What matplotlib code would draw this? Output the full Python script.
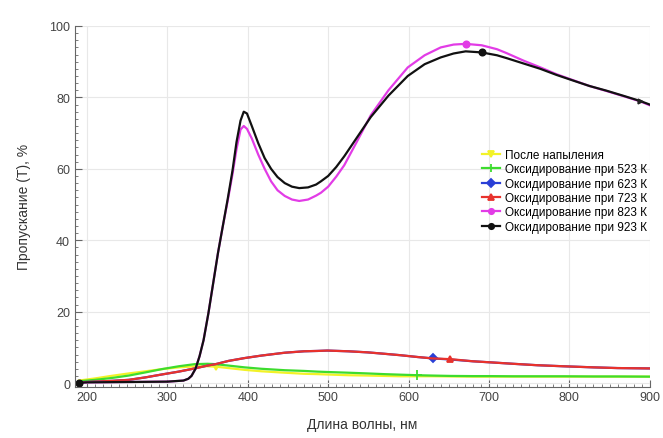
import numpy as np
import matplotlib
matplotlib.use('Agg')
import matplotlib.pyplot as plt
from matplotlib.ticker import MultipleLocator

plt.rcParams['font.family'] = ['Liberation Sans', 'DejaVu Sans']

# ---- Data ----
labels = [
    'После напыления',
    'Оксидирование при 523 К',
    'Оксидирование при 623 К',
    'Оксидирование при 723 К',
    'Оксидирование при 823 К',
    'Оксидирование при 923 К',
]

# low-transmission films
wl_low = [190, 210, 230, 252, 273, 293, 314, 334, 350, 360, 376, 396, 417, 446,
          470, 487, 499, 525, 549, 570, 590, 611, 630, 652, 680, 702, 730, 760,
          793, 830, 860, 900]
t_as_dep = [0.7, 1.3, 2.0, 2.7, 3.3, 3.9, 4.4, 4.7, 4.7, 4.6, 4.2, 3.7, 3.3, 2.9,
            2.6, 2.5, 2.4, 2.2, 2.1, 2.0, 1.9, 1.9, 1.9, 1.85, 1.8, 1.8, 1.8, 1.8,
            1.8, 1.8, 1.8, 1.8]
t_523 = [0.5, 0.9, 1.4, 2.1, 3.0, 3.9, 4.7, 5.3, 5.4, 5.3, 4.9, 4.4, 4.0, 3.6,
         3.4, 3.2, 3.1, 2.9, 2.7, 2.5, 2.35, 2.2, 2.1, 2.0, 1.95, 1.95, 1.9, 1.9,
         1.9, 1.85, 1.85, 1.8]
t_623 = [0.2, 0.4, 0.6, 0.9, 1.6, 2.4, 3.2, 4.1, 4.9, 5.3, 6.2, 7.0, 7.7, 8.5,
         8.9, 9.0, 9.1, 8.9, 8.6, 8.2, 7.8, 7.3, 6.9, 6.6, 6.1, 5.8, 5.4, 5.0,
         4.7, 4.4, 4.2, 4.1]
t_723 = [0.2, 0.4, 0.6, 0.9, 1.6, 2.4, 3.2, 4.1, 4.9, 5.3, 6.2, 7.0, 7.7, 8.5,
         8.9, 9.0, 9.1, 8.9, 8.6, 8.2, 7.8, 7.3, 6.9, 6.7, 6.1, 5.8, 5.4, 5.0,
         4.7, 4.4, 4.2, 4.1]

# high-transmission films
wl_high = [190, 200, 250, 300, 320, 326, 330, 335, 340, 345, 351, 357, 363, 369,
           375, 381, 386, 391, 395, 399, 405, 413, 421, 429, 437, 446, 455, 464,
           475, 485, 491, 500, 510, 520, 535, 553, 575, 599, 620, 640, 656, 671,
           691, 710, 722, 743, 764, 784, 805, 825, 846, 868, 888, 900]
t_823 = [0.1, 0.2, 0.3, 0.4, 0.7, 1.2, 2.0, 4.0, 7.5, 12.0, 19.5, 28.0, 36.5, 44.0,
         51.0, 58.5, 65.5, 71.0, 72.0, 71.2, 68.5, 64.0, 60.0, 56.5, 54.0, 52.4, 51.4, 51.0,
         51.4, 52.5, 53.3, 55.0, 57.8, 61.0, 67.3, 75.0, 82.0, 88.4, 91.8, 94.0, 94.8, 95.0,
         94.6, 93.5, 92.4, 90.3, 88.4, 86.5, 84.8, 83.2, 81.8, 80.3, 78.9, 77.8]
t_923 = [0.1, 0.2, 0.3, 0.4, 0.7, 1.2, 2.0, 4.0, 7.5, 12.0, 19.5, 28.0, 36.5, 44.0,
         51.5, 59.5, 67.5, 73.5, 76.0, 75.5, 72.0, 67.2, 63.0, 60.0, 57.7, 56.0, 55.0, 54.6,
         54.8, 55.6, 56.5, 58.0, 60.5, 63.5, 68.5, 74.5, 80.5, 86.0, 89.3, 91.2, 92.3, 92.9,
         92.6, 91.8, 91.0, 89.5, 88.0, 86.3, 84.7, 83.2, 81.9, 80.4, 79.0, 78.0]

series = [
    (wl_low, t_as_dep, '#f2f227', 'v', [360]),
    (wl_low, t_523, '#3ddc2e', '+', [611]),
    (wl_low, t_623, '#2a3fd6', 'D', [630]),
    (wl_low, t_723, '#e8322c', '^', [652]),
    (wl_high, t_823, '#e23ce6', 'o', [671]),
    (wl_high, t_923, '#111111', 'o', [190, 691]),
]

fig = plt.figure(figsize=(6.63, 4.39), dpi=100)
ax = fig.add_axes([0.113, 0.117, 0.867, 0.8215])

for (wl, t, color, marker, marks), label in zip(series, labels):
    idx = [wl.index(m) for m in marks]
    ax.plot(wl, t, color=color, lw=1.6, marker=marker, markevery=idx,
            markersize=4.5 if marker != '+' else 7, mew=1.3, label=label)

# small end marker on the 923 K curve
ax.plot(wl_high[-2:], t_923[-2:], color='#222222', lw=0, marker='>', markersize=3.5,
        markevery=[0])

ax.set_xlim(185, 900)
ax.set_ylim(-1, 100)
ax.xaxis.set_major_locator(MultipleLocator(100))
ax.xaxis.set_minor_locator(MultipleLocator(10))
ax.yaxis.set_major_locator(MultipleLocator(20))
ax.yaxis.set_minor_locator(MultipleLocator(2))
ax.grid(True, which='major', color='#e8e8e8', lw=0.8)
ax.set_axisbelow(True)

for side in ['top', 'right']:
    ax.spines[side].set_visible(False)
for side in ['left', 'bottom']:
    ax.spines[side].set_color('#666666')
ax.tick_params(which='both', direction='in', colors='#666666', labelcolor='#444444')
ax.tick_params(which='major', length=5, labelsize=9)
ax.tick_params(which='minor', length=2.5)

ax.set_xlabel('Длина волны, нм', fontsize=10, color='#333333', labelpad=10)
ax.set_ylabel('Пропускание (Т), %', fontsize=10, color='#333333', labelpad=13)

ax.legend(loc='upper left', bbox_to_anchor=(0.70, 0.672), frameon=False,
          fontsize=8.5, handlelength=1.5, labelspacing=0.2, handletextpad=0.45,
          borderaxespad=0, markerscale=0.85)

fig.savefig('out.png', dpi=100)
